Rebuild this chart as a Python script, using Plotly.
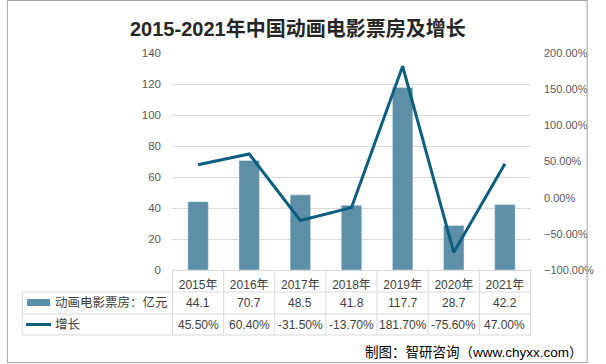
import plotly.graph_objects as go

years = ["2015年", "2016年", "2017年", "2018年", "2019年", "2020年", "2021年"]
box_office = [44.1, 70.7, 48.5, 41.8, 117.7, 28.7, 42.2]
growth = [45.50, 60.40, -31.50, -13.70, 181.70, -75.60, 47.00]
series_names = ["动画电影票房：亿元", "增长"]
title_text = "2015-2021年中国动画电影票房及增长"
source_text = "制图：智研咨询（www.chyxx.com）"

BAR_COLOR = "#5d8fa7"
LINE_COLOR = "#0d5f80"
GRID = "#d9d9d9"
FONT = "Liberation Sans, Noto Sans CJK SC, sans-serif"

W, H = 606, 364
L, R, T, B = 172, 60, 53, 94
PW, PH = W - L - R, H - T - B


def px(x):
    return (x - L) / PW


def py(y):
    return (H - B - y) / PH


fig = go.Figure()
fig.add_trace(go.Bar(x=years, y=box_office, marker_color=BAR_COLOR, name=series_names[0],
                     showlegend=False, hoverinfo="x+y"))
fig.add_trace(go.Scatter(x=years, y=growth, yaxis="y2", mode="lines", name=series_names[1],
                         line=dict(color=LINE_COLOR, width=3), showlegend=False))

shapes = []
annotations = []
n = len(years)
# table vertical lines
for i in range(n + 1):
    shapes.append(dict(type="line", xref="x", yref="paper", x0=i - 0.5, x1=i - 0.5,
                       y0=0, y1=py(335), line=dict(color=GRID, width=1)))
# table horizontal lines
for yy in (292, 314, 335):
    shapes.append(dict(type="line", xref="paper", yref="paper", x0=px(16), x1=1,
                       y0=py(yy), y1=py(yy), line=dict(color=GRID, width=1)))
shapes.append(dict(type="line", xref="paper", yref="paper", x0=px(16), x1=px(16),
                   y0=py(292), y1=py(335), line=dict(color=GRID, width=1)))
# legend keys
shapes.append(dict(type="rect", xref="paper", yref="paper", x0=px(21), x1=px(45),
                   y0=py(306), y1=py(299), fillcolor=BAR_COLOR, line=dict(width=0)))
shapes.append(dict(type="line", xref="paper", yref="paper", x0=px(20), x1=px(46),
                   y0=py(324.5), y1=py(324.5), line=dict(color=LINE_COLOR, width=3)))
# outer border
shapes.append(dict(type="rect", xref="paper", yref="paper", x0=px(0.5), x1=px(604.5),
                   y0=py(362.5), y1=py(0.5), line=dict(color="#a6a6a6", width=1)))

for name, yy in zip(series_names, (302.5, 324.5)):
    annotations.append(dict(xref="paper", yref="paper", x=px(48), y=py(yy), text=name,
                            showarrow=False, xanchor="left", yanchor="middle",
                            font=dict(size=12.5, color="#404040", family=FONT)))
for i, (v, g) in enumerate(zip(box_office, growth)):
    annotations.append(dict(xref="x", yref="paper", x=i, y=py(302.5), text=f"{v:.1f}",
                            showarrow=False, xanchor="center", yanchor="middle",
                            font=dict(size=12, color="#404040", family=FONT)))
    annotations.append(dict(xref="x", yref="paper", x=i, y=py(324.5), text=f"{g:.2f}%",
                            showarrow=False, xanchor="center", yanchor="middle",
                            font=dict(size=12, color="#404040", family=FONT)))
annotations.append(dict(xref="paper", yref="paper", x=px(602), y=py(352), text=source_text,
                        showarrow=False, xanchor="right", yanchor="middle",
                        font=dict(size=13.5, color="#000000", family=FONT)))
annotations.append(dict(xref="paper", yref="paper", x=px(303), y=py(29), text=f"<b>{title_text}</b>",
                        showarrow=False, xanchor="center", yanchor="middle",
                        font=dict(size=20, color="#262626", family=FONT)))

fig.update_layout(
    width=W, height=H,
    margin=dict(l=L, r=R, t=T, b=B, pad=0),
    paper_bgcolor="white", plot_bgcolor="white",
    bargap=0.6,
    font=dict(family=FONT),
    shapes=shapes, annotations=annotations,
    xaxis=dict(type="category", showline=True, linecolor=GRID, linewidth=1, showgrid=False,
               ticks="", tickfont=dict(size=12, color="#404040"), ticklabelstandoff=4),
    yaxis=dict(range=[0, 140], dtick=20, showgrid=True, gridcolor=GRID, zeroline=False,
               ticks="", tickfont=dict(size=11.5, color="#595959"), ticklabelstandoff=10),
    yaxis2=dict(range=[-100, 200], dtick=50, overlaying="y", side="right", showgrid=False,
                zeroline=False, tickformat=".2f", ticksuffix="%", ticks="",
                tickfont=dict(size=11, color="#595959"), ticklabelstandoff=12),
)

fig.write_html("out.html", config={"displayModeBar": False},
               post_script="document.body.style.margin='0';document.body.style.overflow='hidden';")
